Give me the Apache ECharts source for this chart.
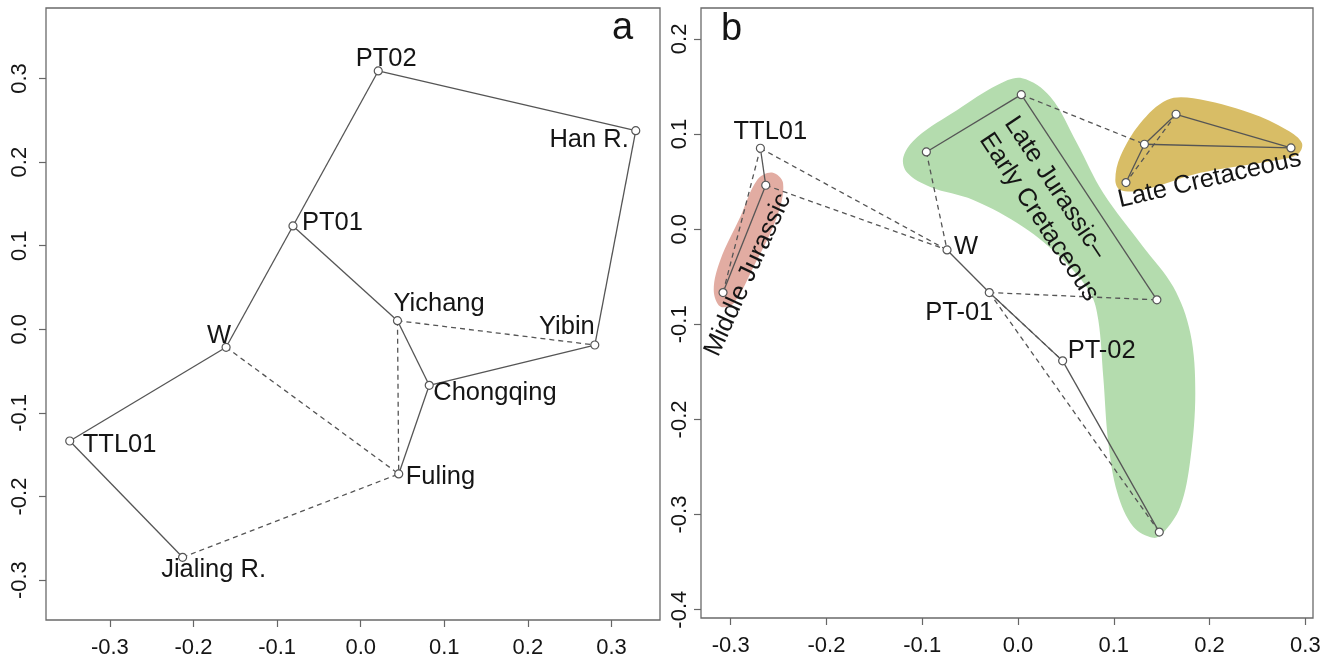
<!DOCTYPE html>
<html>
<head>
<meta charset="utf-8">
<title>PCA panels a / b</title>
<script src="https://cdn.jsdelivr.net/npm/echarts@6/dist/echarts.min.js"></script>
<style>
  html, body { margin: 0; padding: 0; background: #fff; }
  #chart { width: 1335px; height: 662px; }
</style>
</head>
<body>
<div id="chart"></div>
<script>
// ---- panel a data ----
var aNames = ['PT02', 'Han R.', 'PT01', 'Yichang', 'Yibin', 'Chongqing', 'Fuling', 'W', 'TTL01', 'Jialing R.'];
var aX = [0.021, 0.329, -0.081, 0.044, 0.280, 0.082, 0.0455, -0.161, -0.348, -0.213];
var aY = [0.309, 0.2376, 0.1236, 0.0103, -0.0188, -0.067, -0.173, -0.0215, -0.1336, -0.2727];
var aSolid = [['PT02', 'Han R.'], ['PT02', 'PT01'], ['PT01', 'W'], ['PT01', 'Yichang'], ['Han R.', 'Yibin'],
              ['Yibin', 'Chongqing'], ['Yichang', 'Chongqing'], ['Chongqing', 'Fuling'], ['W', 'TTL01'], ['TTL01', 'Jialing R.']];
var aDashed = [['Yichang', 'Yibin'], ['Yichang', 'Fuling'], ['W', 'Fuling'], ['Jialing R.', 'Fuling']];

// ---- panel b data ----
var bIds = ['TTL01', 'MJ2', 'MJ3', 'W', 'PT-01', 'PT-02', 'LJ1', 'LJ2', 'LJ3', 'LJ4', 'LC1', 'LC2', 'LC3', 'LC4'];
var bLabels = ['TTL01', '', '', 'W', 'PT-01', 'PT-02', '', '', '', '', '', '', '', ''];
var bX = [-0.269, -0.2634, -0.308, -0.0741, -0.030, 0.0466, -0.0957, 0.0034, 0.145, 0.1475, 0.165, 0.132, 0.285, 0.1127];
var bY = [0.0851, 0.0462, -0.0666, -0.0218, -0.0666, -0.1384, 0.0812, 0.1414, -0.0743, -0.3184, 0.1208, 0.0893, 0.0854, 0.049];
var bSolid = [['TTL01', 'MJ2'], ['MJ2', 'MJ3'], ['W', 'PT-01'], ['PT-01', 'PT-02'], ['PT-02', 'LJ4'],
              ['LJ1', 'LJ2'], ['LJ2', 'LJ3'], ['LC1', 'LC2'], ['LC2', 'LC3'], ['LC1', 'LC3'], ['LC2', 'LC4']];
var bDashed = [['TTL01', 'MJ3'], ['TTL01', 'W'], ['MJ2', 'W'], ['LJ1', 'W'], ['PT-01', 'LJ3'],
               ['PT-01', 'PT-02'], ['PT-01', 'LJ4'], ['LJ2', 'LC2'], ['LC1', 'LC4']];

// group envelopes (outline points, data units)
var greenX = [0.0042, 0.0337, 0.0616, 0.0890, 0.1308, 0.1621, 0.1799, 0.1851, 0.1799, 0.1694, 0.1517, 0.1412, 0.1204,
              0.1037, 0.0943, 0.0890, 0.0838, 0.0754, 0.0473, 0.0055, -0.0467, -0.0916, -0.1156, -0.1197, -0.1051, -0.0634, -0.0216];
var greenY = [0.1587, 0.1393, 0.0904, 0.0381, -0.0186, -0.0606, -0.1090, -0.1720, -0.2424, -0.2918, -0.3192, -0.3244, -0.3128,
              -0.2771, -0.2246, -0.1552, -0.0953, -0.0669, -0.0323, 0.0024, 0.0308, 0.0444, 0.0592, 0.0760, 0.0970, 0.1254, 0.1516];
var redX = [-0.2568, -0.2453, -0.2516, -0.2760, -0.2969, -0.3108, -0.3177, -0.3108, -0.2899, -0.2724];
var redY = [0.0595, 0.0483, 0.0132, -0.0393, -0.0778, -0.0813, -0.0638, -0.0323, 0.0132, 0.0518];
var yellowX = [0.1555, 0.1830, 0.2425, 0.2808, 0.2965, 0.2912, 0.2599, 0.1903, 0.1308, 0.1068, 0.1016, 0.1068, 0.1276];
var yellowY = [0.1359, 0.1376, 0.1222, 0.1043, 0.0904, 0.0781, 0.0710, 0.0592, 0.0413, 0.0413, 0.0518, 0.0763, 0.1114];

var groupNames = ['Middle Jurassic', 'Late Jurassic\u2013\nEarly Cretaceous', 'Late Cretaceous'];
var groupX = [-0.2820, -0.0215, 0.2000];
var groupY = [-0.0480, 0.1070, 0.0525];

var aTicks = [-0.3, -0.2, -0.1, 0.0, 0.1, 0.2, 0.3];
var bTicksX = [-0.3, -0.2, -0.1, 0.0, 0.1, 0.2, 0.3];
var bTicksY = [-0.4, -0.3, -0.2, -0.1, 0.0, 0.1, 0.2];

var FONT = 'Liberation Sans, Arial, sans-serif';
var INK = '#151515';
var LINE = '#555';

// label placement per point: [align, dx, dy]
var aLabelPos = {
    'PT02': ['center', 8, -12], 'Han R.': ['right', -7, 9], 'PT01': ['left', 9, -3],
    'Yichang': ['left', -4, -17], 'Yibin': ['right', 0, -18], 'Chongqing': ['left', 4, 8],
    'Fuling': ['left', 7, 3], 'W': ['center', -7, -11], 'TTL01': ['left', 13, 4], 'Jialing R.': ['center', 31, 13]
};
var bLabelPos = {
    'TTL01': ['center', 10, -16], 'W': ['left', 7, -3], 'PT-01': ['right', 4, 20], 'PT-02': ['left', 5, -10]
};

function pointSeries(xs, ys, idx){
    return {
        type: 'scatter', xAxisIndex: idx, yAxisIndex: idx, z: 5, silent: true,
        symbol: 'circle', symbolSize: 8,
        itemStyle: { color: '#fff', borderColor: LINE, borderWidth: 1.2, opacity: 1 },
        data: xs.map(function(x, i){ return [x, ys[i]]; })
    };
}

function labelSeries(labels, xs, ys, pos, idx){
    return {
        type: 'custom', xAxisIndex: idx, yAxisIndex: idx, z: 6, silent: true,
        data: xs.map(function(x, i){ return [x, ys[i]]; }),
        renderItem: function(params, api){
            var i = params.dataIndex;
            var p = pos[labels[i]];
            if(!p) return null;
            var c = api.coord([xs[i], ys[i]]);
            return {
                type: 'text', x: c[0] + p[1], y: c[1] + p[2],
                style: { text: labels[i], fill: INK, font: '25.5px ' + FONT, align: p[0], verticalAlign: 'middle' }
            };
        }
    };
}

function edgeSeries(edges, ids, xs, ys, dashed, idx){
    var data = edges.map(function(e){
        var i = ids.indexOf(e[0]), j = ids.indexOf(e[1]);
        return { coords: [[xs[i], ys[i]], [xs[j], ys[j]]] };
    });
    return {
        type: 'lines', coordinateSystem: 'cartesian2d', xAxisIndex: idx, yAxisIndex: idx,
        z: 3, silent: true, symbol: 'none',
        lineStyle: { color: LINE, width: 1.3, type: dashed ? [5, 4] : 'solid', opacity: 1 },
        data: data
    };
}

function blobSeries(xs, ys, color){
    return {
        type: 'custom', xAxisIndex: 1, yAxisIndex: 1, z: 1, silent: true,
        data: [[xs[0], ys[0]]],
        renderItem: function(params, api){
            var pts = xs.map(function(x, i){ return api.coord([x, ys[i]]); });
            return { type: 'polygon', shape: { points: pts, smooth: 0.35 }, style: { fill: color } };
        }
    };
}

var groupRot = [65.5, -56.5, 13];
var groupAlign = ['center', 'left', 'center'];
var groupSeries = {
    type: 'custom', xAxisIndex: 1, yAxisIndex: 1, z: 6, silent: true,
    data: groupNames.map(function(n, i){ return [groupX[i], groupY[i]]; }),
    renderItem: function(params, api){
        var i = params.dataIndex;
        var c = api.coord([groupX[i], groupY[i]]);
        return {
            type: 'text', x: c[0], y: c[1], rotation: groupRot[i] * Math.PI / 180,
            style: {
                text: groupNames[i], fill: INK, font: '25.5px ' + FONT,
                align: groupAlign[i], verticalAlign: 'middle', lineHeight: 30
            }
        };
    }
};

function makeAxis(idx, min, max, ticks, isY, margin){
    return {
        type: 'value', gridIndex: idx, min: min, max: max,
        axisLine: { show: false, onZero: false },
        splitLine: { show: false },
        axisTick: { show: true, length: 7, customValues: ticks, lineStyle: { color: '#666', width: 1.2 } },
        axisLabel: {
            show: true, customValues: ticks, margin: margin, rotate: isY ? 90 : 0,
            fontFamily: FONT, fontSize: 22, color: INK,
            formatter: function(v){ return (Math.abs(v) < 1e-9 ? 0 : v).toFixed(1); }
        }
    };
}

var myChart = echarts.init(document.getElementById('chart'), null, { renderer: 'canvas' });
var option = {
    animation: false,
    backgroundColor: '#fff',
    textStyle: { fontFamily: FONT },
    title: [
        { text: 'a', left: 612, top: 10, padding: 0, textStyle: { fontSize: 38, fontWeight: 'normal', color: INK, fontFamily: FONT } },
        { text: 'b', left: 721, top: 11, padding: 0, textStyle: { fontSize: 38, fontWeight: 'normal', color: INK, fontFamily: FONT } }
    ],
    grid: [
        { left: 46, top: 8, right: 675, bottom: 42, show: true, borderColor: '#6a6a6a', borderWidth: 1.3, outerBoundsMode: 'none', containLabel: false },
        { left: 701, top: 8, right: 22, bottom: 44, show: true, borderColor: '#6a6a6a', borderWidth: 1.3, outerBoundsMode: 'none', containLabel: false }
    ],
    xAxis: [
        makeAxis(0, -0.3764, 0.358, aTicks, false, 17),
        makeAxis(1, -0.331, 0.308, bTicksX, false, 17)
    ],
    yAxis: [
        makeAxis(0, -0.3477, 0.3843, aTicks, true, 15),
        makeAxis(1, -0.4087, 0.2325, bTicksY, true, 10)
    ],
    series: [
        edgeSeries(aSolid, aNames, aX, aY, false, 0),
        edgeSeries(aDashed, aNames, aX, aY, true, 0),
        pointSeries(aX, aY, 0),
        labelSeries(aNames, aX, aY, aLabelPos, 0),
        blobSeries(greenX, greenY, '#b4dcae'),
        blobSeries(redX, redY, '#e2aca2'),
        blobSeries(yellowX, yellowY, '#d8bd66'),
        edgeSeries(bSolid, bIds, bX, bY, false, 1),
        edgeSeries(bDashed, bIds, bX, bY, true, 1),
        pointSeries(bX, bY, 1),
        labelSeries(bLabels, bX, bY, bLabelPos, 1),
        groupSeries
    ]
};
myChart.setOption(option);
</script>
</body>
</html>
